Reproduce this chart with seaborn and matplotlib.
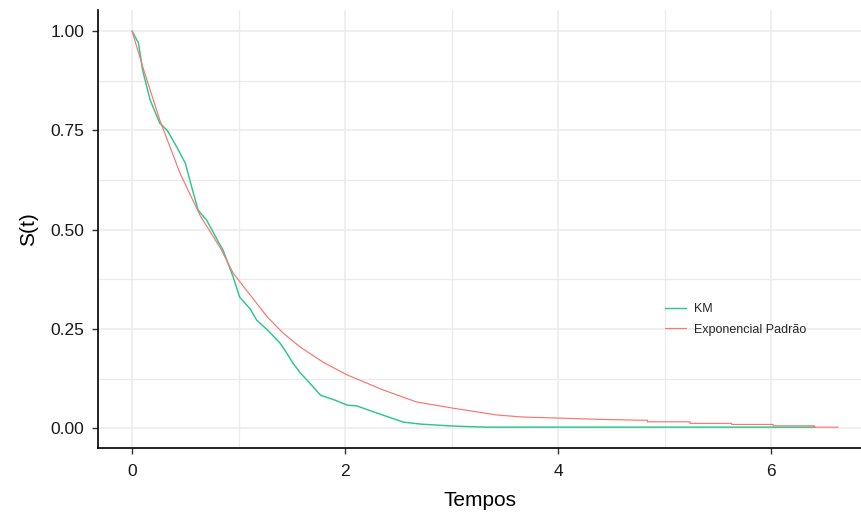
import matplotlib
matplotlib.use("Agg")
import matplotlib.pyplot as plt
import seaborn as sns
import pandas as pd
from matplotlib.ticker import MultipleLocator, FormatStrFormatter

# Kaplan-Meier estimate
km_t = [0, 0.02, 0.06, 0.10, 0.17, 0.26, 0.33, 0.42, 0.50, 0.56, 0.62, 0.70, 0.80,
        0.855, 0.95, 1.01, 1.11, 1.17, 1.28, 1.39, 1.45, 1.51, 1.58, 1.67, 1.77,
        1.91, 2.02, 2.11, 2.30, 2.55, 2.72, 3.03, 3.33, 6.41]
km_s = [1.0, 0.99, 0.97, 0.90, 0.826, 0.768, 0.75, 0.708, 0.667, 0.607, 0.549, 0.524,
        0.474, 0.448, 0.38, 0.33, 0.30, 0.272, 0.245, 0.214, 0.19, 0.164, 0.139,
        0.113, 0.083, 0.07, 0.058, 0.056, 0.038, 0.015, 0.010, 0.005, 0.0025, 0.0025]

# Standard exponential fit
exp_t = [0, 0.10, 0.26, 0.45, 0.64, 0.83, 0.95, 1.11, 1.27, 1.42, 1.58, 1.80, 2.02,
         2.36, 2.67, 3.02, 3.43, 3.67, 4.05, 4.40, 4.77, 4.84, 4.84, 5.24, 5.24,
         5.63, 5.63, 6.02, 6.02, 6.41, 6.41, 6.63]
exp_s = [1.0, 0.91, 0.776, 0.642, 0.535, 0.453, 0.39, 0.335, 0.28, 0.239, 0.204,
         0.165, 0.134, 0.096, 0.066, 0.050, 0.033, 0.028, 0.025, 0.022, 0.020, 0.020,
         0.016, 0.016, 0.012, 0.012, 0.0093, 0.0093, 0.0058, 0.0058, 0.0025, 0.0025]

labels = ["KM", "Exponencial Padrão"]
colors = {"KM": "#2CC78F", "Exponencial Padrão": "#F8766D"}

df = pd.concat([
    pd.DataFrame({"t": km_t, "s": km_s, "curve": labels[0]}),
    pd.DataFrame({"t": exp_t, "s": exp_s, "curve": labels[1]}),
], ignore_index=True)

sns.set_theme(style="white")
plt.rcParams["font.family"] = ["Liberation Sans", "DejaVu Sans"]

fig = plt.figure(figsize=(8.61, 5.12), dpi=100)
ax = fig.add_axes([98 / 861, 64 / 512, 1 - 98 / 861, 438 / 512])

for lab in labels:
    sub = df[df["curve"] == lab]
    sns.lineplot(data=sub, x="t", y="s", ax=ax, color=colors[lab], label=lab,
                 estimator=None, sort=False,
                 linewidth=1.05 if lab == "KM" else 0.85)

ax.set_xlim(-0.32, 6.845)
ax.set_ylim(-0.05, 1.053)
ax.xaxis.set_major_locator(MultipleLocator(2))
ax.xaxis.set_minor_locator(MultipleLocator(1))
ax.yaxis.set_major_locator(MultipleLocator(0.25))
ax.yaxis.set_minor_locator(MultipleLocator(0.125))
ax.yaxis.set_major_formatter(FormatStrFormatter("%.2f"))

ax.grid(which="major", color="#EBEBEB", linewidth=1.1)
ax.grid(which="minor", color="#EBEBEB", linewidth=0.9)
ax.set_axisbelow(True)

for side in ["top", "right"]:
    ax.spines[side].set_visible(False)
for side in ["left", "bottom"]:
    ax.spines[side].set_color("black")
    ax.spines[side].set_linewidth(1.2)

ax.tick_params(axis="both", which="major", direction="out", length=4.5, width=1,
               color="#333333", labelsize=12.5, labelcolor="#1a1a1a", pad=5.5,
               bottom=True, left=True)
ax.tick_params(axis="x", which="major", pad=7)
ax.tick_params(axis="both", which="minor", length=0)

ax.set_xlabel("Tempos", fontsize=15, color="black", labelpad=9)
ax.set_ylabel("S(t)", fontsize=15, color="black", labelpad=9)

ax.legend(loc="upper left", bbox_to_anchor=(0.743, 0.33), frameon=False,
          fontsize=9, handlelength=1.7, handletextpad=0.6, labelspacing=0.65,
          borderaxespad=0, borderpad=0)

fig.savefig("out.png", dpi=100)
